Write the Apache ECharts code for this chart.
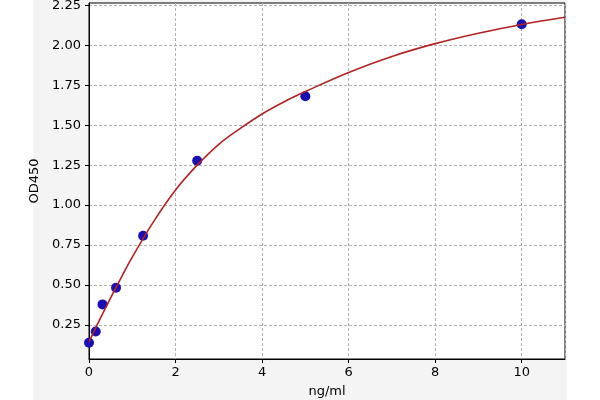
<!DOCTYPE html>
<html>
<head>
<meta charset="utf-8">
<script src="https://cdn.jsdelivr.net/npm/echarts@6/dist/echarts.min.js"></script>
<style>
    html, body { margin: 0; padding: 0; background: #ffffff; }
    #chart { width: 600px; height: 400px; }
</style>
</head>
<body>
<div id="chart"></div>
<script>
    // standard points (ng/ml, OD450)
    var stdConc = [0, 0.156, 0.312, 0.625, 1.25, 2.5, 5, 10];
    var stdOD = [0.139, 0.21, 0.379, 0.483, 0.808, 1.277, 1.681, 2.131];

    // fitted curve
    var fitConc = [0, 0.25, 0.5, 0.75, 1, 1.5, 2, 2.5, 3, 3.5, 4, 4.5, 5, 6, 7, 8, 9, 10, 11];
    var fitOD = [0.145, 0.285, 0.42, 0.55, 0.675, 0.90, 1.095, 1.25, 1.38, 1.48, 1.57, 1.645, 1.71, 1.83, 1.93, 2.01, 2.075, 2.13, 2.175];

    var yTicks = [0.25, 0.5, 0.75, 1.0, 1.25, 1.5, 1.75, 2.0, 2.25];

    function pairs(xs, ys) {
        var out = [];
        for (var i = 0; i < xs.length; i++) {
            out.push([xs[i], ys[i]]);
        }
        return out;
    }

    var chart = echarts.init(document.getElementById('chart'));

    var option = {
        backgroundColor: '#ffffff',
        animation: false,
        textStyle: { fontFamily: 'DejaVu Sans' },
        graphic: [{
            type: 'rect',
            z: -10,
            silent: true,
            shape: { x: 33, y: 0, width: 534, height: 400 },
            style: { fill: '#f4f4f4' }
        }],
        grid: {
            left: 89,
            right: 35,
            top: 3,
            bottom: 41,
            outerBoundsMode: 'none',
            containLabel: false,
            show: true,
            backgroundColor: '#ffffff',
            borderColor: '#000000',
            borderWidth: 1
        },
        xAxis: {
            type: 'value',
            min: 0,
            max: 11,
            interval: 2,
            name: 'ng/ml',
            nameLocation: 'middle',
            nameGap: 26,
            nameTextStyle: { color: '#000', fontSize: 13, fontFamily: 'DejaVu Sans' },
            axisLine: { show: true, onZero: false, lineStyle: { color: '#000', width: 1 } },
            axisTick: { show: true, inside: false, length: 4, lineStyle: { color: '#000' } },
            axisLabel: { color: '#000', fontSize: 13, margin: 7, showMaxLabel: false },
            splitLine: { show: true, lineStyle: { color: '#b0b0b0', type: [3, 2], width: 1 } }
        },
        yAxis: {
            type: 'value',
            min: 0.0375,
            max: 2.264,
            name: 'OD450',
            nameLocation: 'middle',
            nameGap: 44,
            nameTextStyle: { color: '#000', fontSize: 13, fontFamily: 'DejaVu Sans' },
            axisLine: { show: true, onZero: false, lineStyle: { color: '#000', width: 1 } },
            axisTick: { show: true, inside: false, length: 4, lineStyle: { color: '#000' }, customValues: yTicks },
            axisLabel: {
                color: '#000',
                fontSize: 13,
                margin: 8,
                customValues: yTicks,
                formatter: function (v) { return v.toFixed(2); }
            },
            splitLine: { show: true, lineStyle: { color: '#b0b0b0', type: [3, 2], width: 1 } }
        },
        series: [{
            name: 'points',
            type: 'scatter',
            data: pairs(stdConc, stdOD),
            symbolSize: 10,
            itemStyle: { color: '#1a0fb4', opacity: 1 },
            z: 2
        }, {
            name: 'fit',
            type: 'line',
            data: pairs(fitConc, fitOD),
            smooth: 0.4,
            showSymbol: false,
            lineStyle: { color: '#b22222', width: 1.6 },
            z: 3
        }]
    };

    chart.setOption(option);
</script>
</body>
</html>
